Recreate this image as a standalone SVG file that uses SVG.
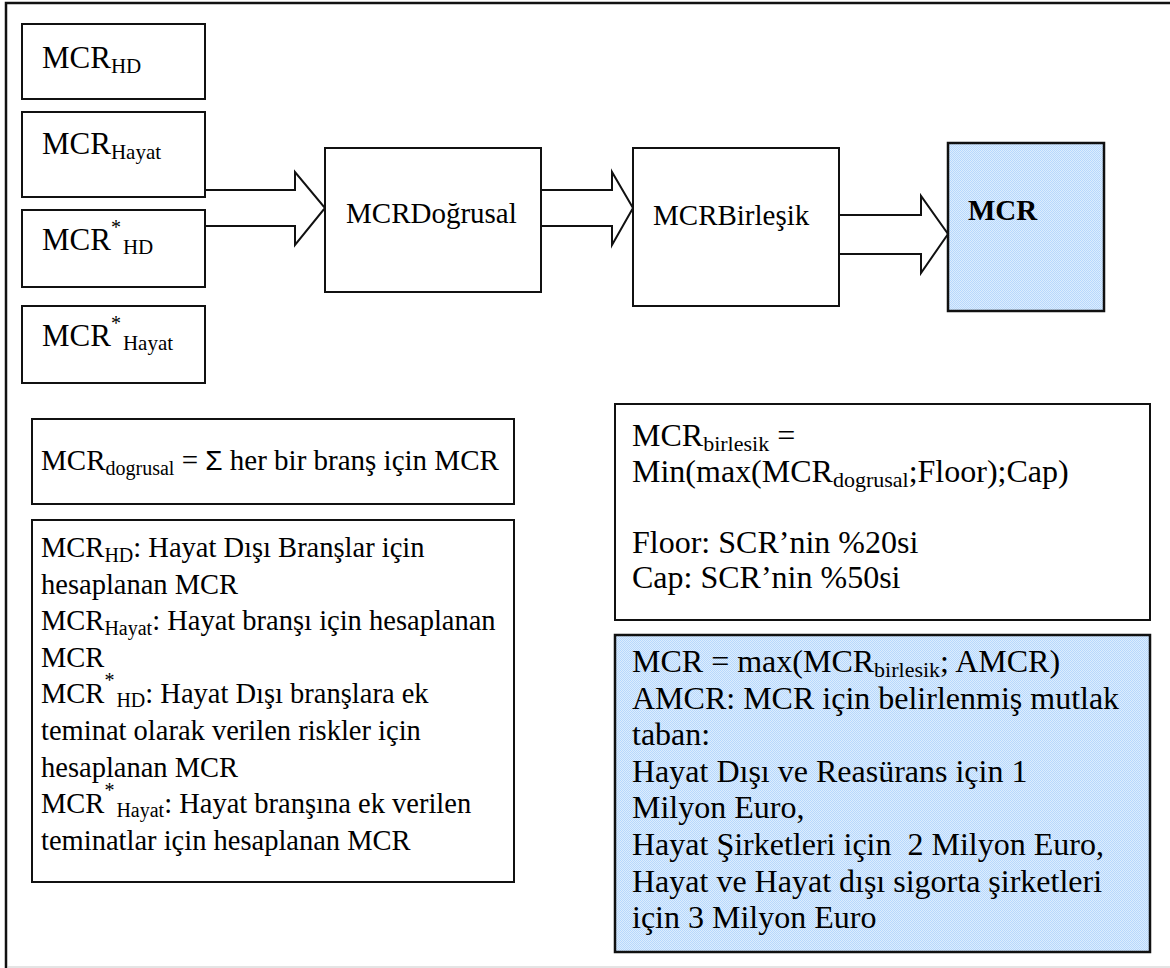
<svg xmlns="http://www.w3.org/2000/svg" width="1170" height="968" viewBox="0 0 1170 968">
  <defs>
    <!-- fine blue check used as the fill of the result boxes -->
    <pattern id="blueCheck" x="0" y="0" width="2" height="2" patternUnits="userSpaceOnUse">
      <rect width="2" height="2" fill="#dcedfe"/>
      <rect width="1" height="1" fill="#b8d8fc"/>
      <rect x="1" y="1" width="1" height="1" fill="#b8d8fc"/>
    </pattern>
    <style>
      .box { fill: #ffffff; stroke: #111111; stroke-width: 2; }
      .blue { fill: url(#blueCheck); stroke: #111111; stroke-width: 2.5; }
      .arrow { fill: #ffffff; stroke: #111111; stroke-width: 2; stroke-linejoin: miter; }
      text { font-family: "Liberation Serif", "Times New Roman", serif; font-size: 29px; fill: #000000; }
      .node { font-size: 31px; }
      .wide { font-size: 32px; }
      .defs { font-size: 28.5px; }
      .sub { font-size: 20px; }
      .node .sub { font-size: 21px; }
      .wide .sub { font-size: 22px; }
      .sup { font-size: 20px; }
      .bold { font-weight: bold; }
      .sans { font-family: "Liberation Sans", Arial, sans-serif; font-size: 28px; }
    </style>
  </defs>

  <rect width="1170" height="968" fill="#ffffff"/>

  <!-- outer frame -->
  <path d="M6,968 V3 H1170" fill="none" stroke="#111111" stroke-width="2.5"/>
  <line x1="8" y1="967" x2="1170" y2="967" stroke="#e4e4e4" stroke-width="2"/>

  <!-- connectors -->
  <g id="connectors">
    <path class="arrow" d="M205,190 H295 V172 L325,208 L295,245 V226 H205"/>
    <path class="arrow" d="M541,190 H612 V172 L633,208 L612,245 V226 H541"/>
    <path class="arrow" d="M839,215 H921 V196 L948,234 L921,273 V254 H839"/>
  </g>

  <!-- input nodes -->
  <g id="mcr-hd">
    <rect class="box" x="22" y="24" width="183" height="75"/>
    <text class="node" x="42" y="68">MCR<tspan class="sub" dy="5">HD</tspan></text>
  </g>
  <g id="mcr-hayat">
    <rect class="box" x="22" y="112" width="183" height="85"/>
    <text class="node" x="42" y="154">MCR<tspan class="sub" dy="5">Hayat</tspan></text>
  </g>
  <g id="mcr-star-hd">
    <rect class="box" x="22" y="210" width="183" height="77"/>
    <text class="node" x="42" y="250">MCR<tspan class="sup" dy="-16">*</tspan><tspan class="sub" dx="2" dy="20">HD</tspan></text>
  </g>
  <g id="mcr-star-hayat">
    <rect class="box" x="22" y="306" width="183" height="77"/>
    <text class="node" x="42" y="346">MCR<tspan class="sup" dy="-16">*</tspan><tspan class="sub" dx="2" dy="20">Hayat</tspan></text>
  </g>

  <!-- processing nodes -->
  <g id="mcr-dogrusal">
    <rect class="box" x="325" y="148" width="216" height="144"/>
    <text x="346" y="223">MCRDoğrusal</text>
  </g>
  <g id="mcr-birlesik">
    <rect class="box" x="633" y="148" width="206" height="158"/>
    <text x="653" y="225">MCRBirleşik</text>
  </g>
  <g id="mcr">
    <rect class="blue" x="948" y="143" width="156" height="168"/>
    <text class="bold" x="968" y="220">MCR</text>
  </g>

  <!-- linear sum formula -->
  <g id="formula-dogrusal">
    <rect class="box" x="32" y="419" width="482" height="85"/>
    <text x="41" y="470" font-size="29.5">MCR<tspan class="sub" dy="5" font-size="21">dogrusal</tspan><tspan dy="-5"> = </tspan><tspan class="sans">Σ</tspan><tspan> her bir branş için MCR</tspan></text>
  </g>

  <!-- definitions -->
  <g id="definitions">
    <rect class="box" x="32" y="520" width="482" height="362"/>
    <text class="defs" x="41" y="557">MCR<tspan class="sub" dy="5">HD</tspan><tspan dy="-5">: Hayat Dışı Branşlar için</tspan></text>
    <text class="defs" x="41" y="593.6">hesaplanan MCR</text>
    <text class="defs" x="41" y="630.2">MCR<tspan class="sub" dy="5">Hayat</tspan><tspan dy="-5">: Hayat branşı için hesaplanan</tspan></text>
    <text class="defs" x="41" y="666.8">MCR</text>
    <text class="defs" x="41" y="703.4">MCR<tspan class="sup" dy="-16">*</tspan><tspan class="sub" dx="2" dy="20">HD</tspan><tspan dy="-4">: Hayat Dışı branşlara ek</tspan></text>
    <text class="defs" x="41" y="740">teminat olarak verilen riskler için</text>
    <text class="defs" x="41" y="776.6">hesaplanan MCR</text>
    <text class="defs" x="41" y="813.2">MCR<tspan class="sup" dy="-16">*</tspan><tspan class="sub" dx="2" dy="20">Hayat</tspan><tspan dy="-4">: Hayat branşına ek verilen</tspan></text>
    <text class="defs" x="41" y="849.8">teminatlar için hesaplanan MCR</text>
  </g>

  <!-- combined MCR formula -->
  <g id="formula-birlesik">
    <rect class="box" x="615" y="404" width="535" height="216"/>
    <text class="wide" x="632" y="446">MCR<tspan class="sub" dy="5">birlesik</tspan><tspan dy="-5"> =</tspan></text>
    <text class="wide" x="632" y="481.5">Min(max(MCR<tspan class="sub" dy="5">dogrusal</tspan><tspan dy="-5">;Floor);Cap)</tspan></text>
    <text class="wide" x="632" y="552.5">Floor: SCR’nin %20si</text>
    <text class="wide" x="632" y="588">Cap: SCR’nin %50si</text>
  </g>

  <!-- final MCR rule -->
  <g id="formula-mcr">
    <rect class="blue" x="615" y="635" width="535" height="317"/>
    <text class="wide" x="632" y="672">MCR = max(MCR<tspan class="sub" dy="5">birlesik</tspan><tspan dy="-5">; AMCR)</tspan></text>
    <text class="wide" x="632" y="708.6">AMCR: MCR için belirlenmiş mutlak</text>
    <text class="wide" x="632" y="745.2">taban:</text>
    <text class="wide" x="632" y="781.8">Hayat Dışı ve Reasürans için 1</text>
    <text class="wide" x="632" y="818.4">Milyon Euro,</text>
    <text class="wide" x="632" y="855" xml:space="preserve">Hayat Şirketleri için  2 Milyon Euro,</text>
    <text class="wide" x="632" y="891.6">Hayat ve Hayat dışı sigorta şirketleri</text>
    <text class="wide" x="632" y="928.2">için 3 Milyon Euro</text>
  </g>
</svg>
